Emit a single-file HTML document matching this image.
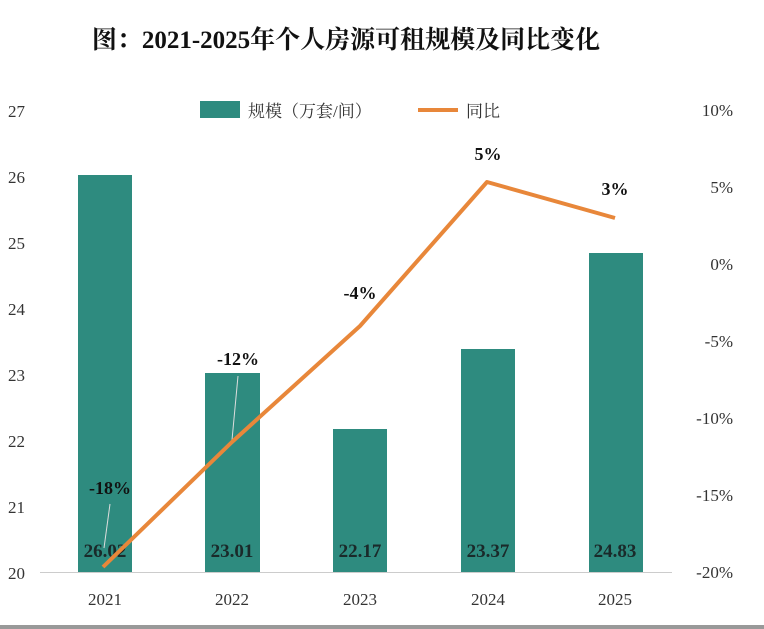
<!DOCTYPE html>
<html><head><meta charset="utf-8"><style>
body{margin:0;background:#fff;}
svg{display:block}
text{font-family:"Liberation Serif","Noto Serif CJK SC",serif;}
</style></head><body>
<svg width="764" height="629" viewBox="0 0 764 629" xmlns="http://www.w3.org/2000/svg">
<rect width="764" height="629" fill="#fff"/>
<text x="346" y="48" text-anchor="middle" font-size="25" font-weight="bold" fill="#111">图：2021-2025年个人房源可租规模及同比变化</text>
<g font-size="17" fill="#333" text-anchor="start">
<text x="8" y="117">27</text><text x="8" y="183">26</text><text x="8" y="249">25</text><text x="8" y="315">24</text>
<text x="8" y="381">23</text><text x="8" y="447">22</text><text x="8" y="513">21</text><text x="8" y="579">20</text>
</g>
<g font-size="17" fill="#333" text-anchor="end">
<text x="733" y="116">10%</text><text x="733" y="193">5%</text><text x="733" y="270">0%</text><text x="733" y="347">-5%</text>
<text x="733" y="424">-10%</text><text x="733" y="501">-15%</text><text x="733" y="578">-20%</text>
</g>
<g fill="#2E8B7F">
<rect x="78" y="175" width="54" height="397"/>
<rect x="205" y="373" width="55" height="199"/>
<rect x="333" y="429" width="54" height="143"/>
<rect x="461" y="349" width="54" height="223"/>
<rect x="589" y="253" width="54" height="319"/>
</g>
<line x1="40" y1="572.5" x2="672" y2="572.5" stroke="#ccc" stroke-width="1"/>
<g font-size="17" fill="#333" text-anchor="middle">
<text x="105" y="605">2021</text><text x="232" y="605">2022</text><text x="360" y="605">2023</text><text x="488" y="605">2024</text><text x="615" y="605">2025</text>
</g>
<g font-size="19" font-weight="bold" fill="#1a2a2a" text-anchor="middle">
<text x="105" y="557">26.02</text><text x="232" y="557">23.01</text><text x="360" y="557">22.17</text><text x="488" y="557">23.37</text><text x="615" y="557">24.83</text>
</g>
<line x1="110" y1="504" x2="104" y2="548" stroke="#ddd" stroke-width="1"/>
<line x1="238" y1="376" x2="232" y2="440" stroke="#ddd" stroke-width="1"/>
<polyline points="103,567 232,442 360,326 487,182 615,218" fill="none" stroke="#E8873A" stroke-width="4" stroke-linejoin="round"/>
<g font-size="18" font-weight="bold" fill="#111" text-anchor="middle">
<text x="110" y="494">-18%</text><text x="238" y="365">-12%</text><text x="360" y="299">-4%</text><text x="488" y="160">5%</text><text x="615" y="195">3%</text>
</g>
<rect x="200" y="101" width="40" height="17" fill="#2E8B7F"/>
<text x="248" y="117" font-size="17" fill="#333">规模（万套/间）</text>
<line x1="418" y1="110" x2="458" y2="110" stroke="#E8873A" stroke-width="4"/>
<text x="466" y="117" font-size="17" fill="#333">同比</text>
<rect x="0" y="625" width="764" height="4" fill="#999"/>
</svg>
</body></html>
